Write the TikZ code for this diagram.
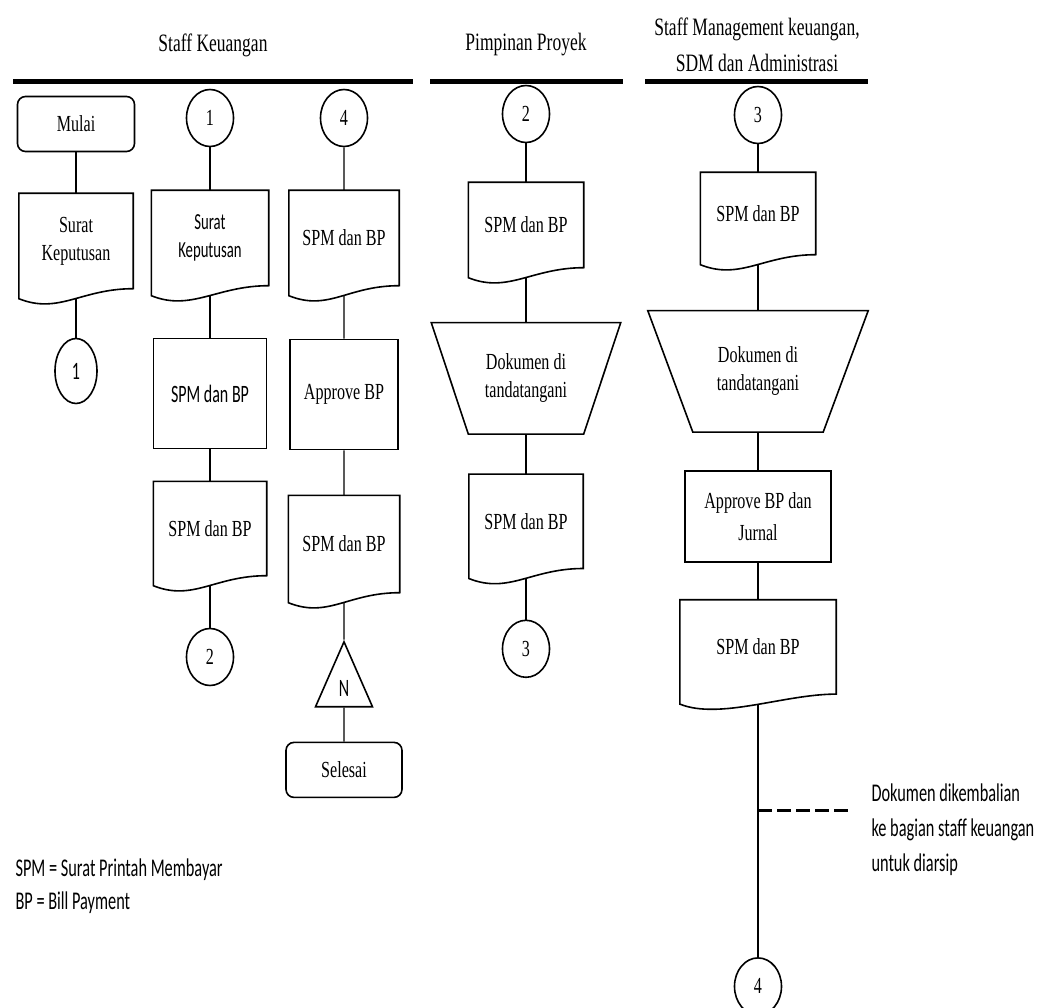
\documentclass[tikz,border=0pt]{standalone}
\usepackage{fontspec}
\setmainfont[FakeStretch=0.7]{Liberation Serif}
\newfontfamily\calib[FakeStretch=0.64]{Carlito}
\usetikzlibrary{shapes.geometric,positioning}

\pgfdeclarelayer{wires}
\pgfdeclarelayer{docs}
\pgfsetlayers{wires,docs,main}

\begin{document}
\begin{tikzpicture}[x=1pt,y=-1pt,
    every node/.style={align=center,font=\fontsize{23}{28}\selectfont},
    sans/.style={font=\calib\fontsize{25}{28}\selectfont},
    note/.style={anchor=west,align=left,font=\calib\fontsize{25.5}{#1}\selectfont},
    title/.style={font=\fontsize{25}{36}\selectfont},
    wire/.style={line width=1.2pt},
    lane/.style={line width=5pt},
    ret/.style={line width=3pt,dash pattern=on 14pt off 5pt},
    box/.style={draw,line width=1.6pt,fill=white,inner sep=2pt},
    term/.style={box,rounded corners=8pt,minimum width=117pt,minimum height=55pt},
    conn/.style={box,ellipse,inner sep=0pt,minimum width=47pt,minimum height=57pt},
    offpage/.style={box,sans,isosceles triangle,isosceles triangle stretches,
      shape border rotate=90,inner sep=0pt,minimum width=57pt,minimum height=65pt},
    manop/.style={inner sep=0pt,
      append after command={\pgfextra{\begin{pgfonlayer}{docs}
        \draw[line width=1.6pt,fill=white] (\tikzlastnode.north west)
          -- (\tikzlastnode.north east) -- ([xshift=-#1]\tikzlastnode.south east)
          -- ([xshift=#1]\tikzlastnode.south west) -- cycle;
        \end{pgfonlayer}}}},
    doc/.style={inner sep=2pt,
      append after command={\pgfextra{\begin{pgfonlayer}{docs}
        \draw[line width=1.6pt,fill=white] (\tikzlastnode.south east)
          -- (\tikzlastnode.north east) -- (\tikzlastnode.north west)
          -- ([yshift=-10pt]\tikzlastnode.south west)
          .. controls ([xshift=40pt,yshift=-26pt]\tikzlastnode.south west)
          and ([xshift=-52pt]\tikzlastnode.south east) .. (\tikzlastnode.south east)
          -- cycle;
        \end{pgfonlayer}}}}]

  \useasboundingbox (0,0) rectangle (1061,1008);

  % lanes
  \node[title] (tk) at (213,45) {Staff Keuangan};
  \node[title] (tp) at (526,45) {Pimpinan Proyek};
  \node[title] (tm) at (757,45) {Staff Management keuangan,\\SDM dan Administrasi};
  \draw[lane] (13,82) -- (413,82);
  \draw[lane] (430,82) -- (623,82);
  \draw[lane] (645,82) -- (868,82);

  % staff keuangan
  \node[term]                                              (mulai)   at (76,124) {Mulai};
  \node[doc,minimum width=114pt,minimum height=95pt,below=41pt of mulai] (sk1) {Surat\\Keputusan};
  \node[conn,sans,minimum width=42pt,minimum height=65pt,below=49pt of sk1] (k1a) {1};

  \node[conn]                                              (k1b)     at (210,118) {1};
  \node[doc,sans,font=\calib\fontsize{23}{28}\selectfont,minimum width=117pt,minimum height=95pt,
        below=43pt of k1b]                                 (sk2)     {Surat\\Keputusan};
  \node[box,sans,minimum width=113pt,minimum height=110pt,below=52pt of sk2] (spm21) {SPM dan BP};
  \node[doc,minimum width=113pt,minimum height=94pt,below=32pt of spm21] (spm22) {SPM dan BP};
  \node[conn,below=52pt of spm22]                          (k2a)     {2};

  \node[conn]                                              (k4a)     at (344,118) {4};
  \node[doc,minimum width=110pt,minimum height=95pt,below=43pt of k4a] (spm31) {SPM dan BP};
  \node[box,minimum width=108pt,minimum height=110pt,below=53pt of spm31] (appr) {Approve BP};
  \node[doc,minimum width=111pt,minimum height=97pt,below=45pt of appr] (spm32) {SPM dan BP};
  \node[offpage,below=47pt of spm32]                       (arsip)   {N};
  \node[term,minimum width=116pt,below=34pt of arsip]      (selesai) {Selesai};

  % pimpinan proyek
  \node[conn]                                              (k2b)     at (526,114) {2};
  \node[doc,minimum width=115pt,minimum height=85pt,below=39pt of k2b] (spm41) {SPM dan BP};
  \node[manop=37pt,minimum width=189pt,minimum height=111pt,below=55pt of spm41] (ttd1) {Dokumen di\\tandatangani};
  \node[doc,minimum width=114pt,minimum height=94pt,below=40pt of ttd1] (spm42) {SPM dan BP};
  \node[conn,below=51pt of spm42]                          (k3a)     {3};

  % management keuangan
  \node[conn]                                              (k3b)     at (758,115) {3};
  \node[doc,minimum width=115pt,minimum height=82pt,below=28pt of k3b] (spm51) {SPM dan BP};
  \node[manop=45pt,minimum width=220pt,minimum height=121pt,below=56pt of spm51] (ttd2) {Dokumen di\\tandatangani};
  \node[box,minimum width=146pt,minimum height=91pt,below=38pt of ttd2,
        font=\fontsize{23}{32}\selectfont]                 (jurnal)  {Approve BP dan\\Jurnal};
  \node[doc,minimum width=156pt,minimum height=94pt,below=37pt of jurnal] (spm52) {SPM dan BP};
  \node[conn,below=263pt of spm52]                         (k4b)     {4};

  \begin{pgfonlayer}{wires}
    \draw[wire] (mulai) -- (sk1) -- (k1a);
    \draw[wire] (k1b) -- (sk2) -- (spm21) -- (spm22) -- (k2a);
    \draw[wire] (k4a) -- (spm31) -- (appr) -- (spm32) -- (arsip) -- (selesai);
    \draw[wire] (k2b) -- (spm41) -- (ttd1) -- (spm42) -- (k3a);
    \draw[wire] (k3b) -- (spm51) -- (ttd2) -- (jurnal) -- (spm52) -- (k4b);
  \end{pgfonlayer}

  % dokumen kembali
  \coordinate (kembali) at (k4b |- 0,810);
  \draw[ret] (kembali) -- ++(92,0) coordinate (ujung);
  \node[note=35] (catatan) at (868,830)
    {Dokumen dikembalian\\ke bagian staff keuangan\\untuk diarsip};

  % keterangan
  \node[note=33] (ket) at (12,886) {SPM = Surat Printah Membayar\\BP = Bill Payment};

\end{tikzpicture}
\end{document}
